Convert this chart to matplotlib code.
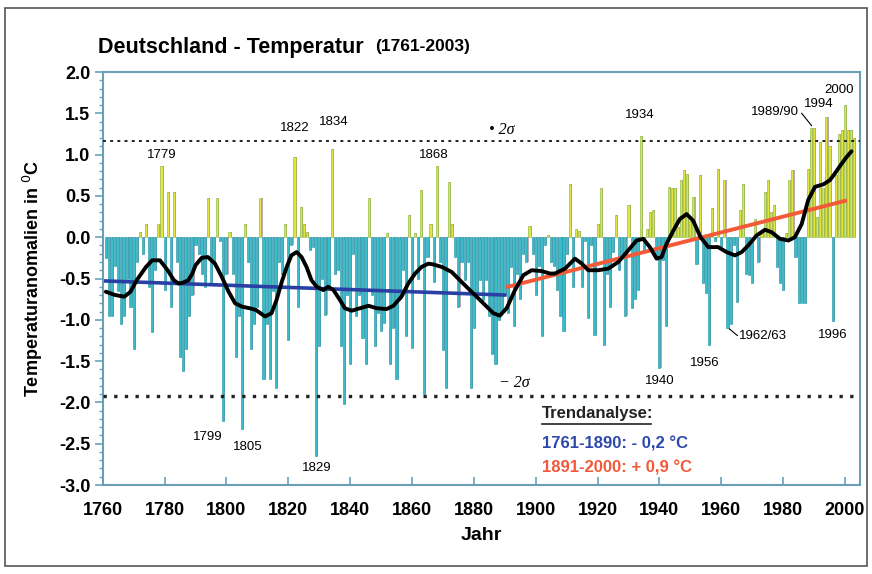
import numpy as np
import matplotlib
matplotlib.use("Agg")
import matplotlib.pyplot as plt
from matplotlib.patches import Rectangle

plt.rcParams['font.family'] = ['Liberation Sans', 'DejaVu Sans']

# Jahresmittel-Anomalien, 1761-2003
years = np.arange(1761, 2004)
anomalies = [
    -0.25, -0.95, -0.95, -0.35, -0.65, -1.05, -0.95, -0.50, -0.85, -1.35,  # 1761-1770
    -0.30, 0.06, -0.20, 0.16, -0.60, -1.15, -0.40, 0.16, 0.86, -0.64,      # 1771-1780
    0.55, -0.84, 0.55, -0.30, -1.45, -1.62, -1.35, -0.95, -0.70, -0.10,    # 1781-1790
    -0.20, -0.45, -0.60, 0.47, -0.55, -0.30, 0.47, -0.05, -2.22, -0.45,    # 1791-1800
    0.06, -0.45, -1.45, -0.95, -2.32, 0.16, -0.30, -1.35, -1.05, -0.84,    # 1801-1810
    0.47, -1.72, -1.05, -1.72, -0.65, -1.82, -0.30, -0.45, 0.16, -1.24,    # 1811-1820
    -0.10, 0.97, -0.84, 0.37, 0.16, 0.06, -0.15, -0.12, -2.65, -1.32,      # 1821-1830
    -0.50, -0.94, -0.64, 1.07, -0.45, -0.40, -1.32, -2.02, -0.70, -1.54,   # 1831-1840
    -0.20, -0.95, -0.70, -1.22, -1.54, 0.47, -0.70, -1.32, -0.92, -1.14,   # 1841-1850
    -1.04, 0.05, -1.54, -1.10, -1.72, -0.75, -0.40, -1.20, 0.27, -1.34,    # 1851-1860
    0.05, -0.50, 0.57, -1.90, -0.24, 0.16, -0.54, 0.86, -0.30, -1.36,      # 1861-1870
    -1.82, 0.67, 0.16, -0.24, -0.84, -0.30, -0.52, -0.30, -1.82, -1.10,    # 1871-1880
    -0.68, -0.52, -0.76, -0.52, -0.96, -1.42, -1.54, -1.00, -0.92, -0.70,  # 1881-1890
    -0.92, -0.36, -1.08, -0.44, -0.75, -0.20, -0.30, 0.14, -0.20, -0.70,   # 1891-1900
    -0.35, -1.20, -0.10, 0.03, -0.30, -0.35, -0.64, -0.96, -1.14, -0.20,   # 1901-1910
    0.65, -0.60, 0.10, 0.08, -0.60, -0.05, -0.98, -0.10, -1.18, 0.16,      # 1911-1920
    0.59, -1.30, -0.45, -0.84, -0.18, 0.27, -0.40, -0.20, -0.96, 0.39,     # 1921-1930
    -0.86, -0.75, -0.64, 1.22, -0.15, 0.10, 0.31, 0.33, -0.24, -1.58,      # 1931-1940
    -0.28, -1.08, 0.61, 0.59, 0.59, 0.12, 0.69, 0.81, 0.77, 0.20,          # 1941-1950
    0.49, -0.32, 0.75, -0.56, -0.68, -1.30, 0.35, -0.05, 0.83, -0.12,      # 1951-1960
    0.69, -1.10, -1.05, -0.10, -0.78, 0.33, 0.65, -0.44, -0.46, -0.56,     # 1961-1970
    0.22, -0.30, 0.05, 0.55, 0.69, 0.30, 0.39, -0.36, -0.56, -0.64,        # 1971-1980
    0.05, 0.69, 0.81, -0.24, -0.80, -0.80, -0.80, 0.83, 1.32, 1.32,        # 1981-1990
    0.25, 1.15, 0.60, 1.46, 1.10, -1.02, 0.75, 1.25, 1.30, 1.60,           # 1991-2000
    1.30, 1.30, 1.20,                                                      # 2001-2003
]

# geglaettete Kurve
smooth_years = [1761, 1764, 1767, 1769, 1771, 1774, 1776, 1778.5, 1781, 1783,
                1784.5, 1786, 1787.7, 1789, 1790, 1792, 1794, 1796.3, 1798.5, 1800.7,
                1802.8, 1805, 1807.5, 1809.5, 1812.5, 1814.6, 1816.2, 1817.9, 1819.5, 1821,
                1822.7, 1824.3, 1825.9, 1827.5, 1829.2, 1831.3, 1832.9, 1834.6, 1836.7, 1838.3,
                1840.5, 1843.2, 1845.9, 1848.6, 1851.8, 1854, 1856.6, 1858.8, 1861, 1863.1,
                1865.3, 1866.9, 1869.6, 1872.8, 1876, 1878.7, 1880.9, 1883.6, 1886.3, 1888.4,
                1890.6, 1893.3, 1896, 1898.7, 1901.9, 1904.6, 1906.2, 1909.5, 1912.7, 1914.9,
                1917, 1920.2, 1923.5, 1926.7, 1929.9, 1932.6, 1934.8, 1936.9, 1939.1, 1940.7,
                1942.3, 1944.5, 1946.6, 1948.8, 1950.9, 1953.3, 1955.8, 1959, 1961.7, 1964.4,
                1966.6, 1968.7, 1971.4, 1974.1, 1976.3, 1979, 1981.7, 1983.8, 1986, 1988.1,
                1990.3, 1993, 1995.1, 1996.7, 1998.9, 2000.5, 2002.1]
smooth_vals = [-0.66, -0.70, -0.72, -0.66, -0.52, -0.36, -0.28, -0.28, -0.40, -0.52,
               -0.56, -0.55, -0.52, -0.44, -0.34, -0.25, -0.24, -0.32, -0.48, -0.66,
               -0.80, -0.84, -0.86, -0.88, -0.96, -0.92, -0.76, -0.54, -0.36, -0.22,
               -0.18, -0.24, -0.36, -0.52, -0.60, -0.64, -0.60, -0.64, -0.76, -0.86,
               -0.89, -0.86, -0.83, -0.86, -0.87, -0.83, -0.72, -0.56, -0.44, -0.36,
               -0.32, -0.33, -0.36, -0.42, -0.54, -0.64, -0.72, -0.82, -0.92, -0.95,
               -0.86, -0.64, -0.46, -0.40, -0.41, -0.44, -0.44, -0.38, -0.26, -0.32,
               -0.40, -0.40, -0.38, -0.30, -0.16, -0.04, -0.02, -0.12, -0.26, -0.24,
               -0.08, 0.08, 0.22, 0.28, 0.20, 0.00, -0.12, -0.12, -0.18, -0.22,
               -0.18, -0.10, 0.02, 0.09, 0.06, -0.02, -0.04, 0.00, 0.16, 0.45,
               0.61, 0.64, 0.69, 0.77, 0.89, 0.97, 1.04]

# Trends
trend1_years = [1761, 1890]
trend1_vals = [-0.53, -0.70]
trend2_years = [1891, 2000]
trend2_vals = [-0.60, 0.44]

sigma_hi = 1.17
sigma_lo = -1.92

year_labels = [("1779", 1779.1, 1.00), ("1822", 1822.2, 1.32), ("1834", 1834.6, 1.39),
               ("1868", 1866.9, 1.00), ("1934", 1933.5, 1.48), ("1994", 1991.6, 1.61),
               ("2000", 1998.0, 1.78), ("1799", 1794.1, -2.42), ("1805", 1807.0, -2.54),
               ("1829", 1829.2, -2.79), ("1940", 1940.2, -1.74), ("1956", 1954.8, -1.52),
               ("1996", 1995.9, -1.18)]

fig = plt.figure(figsize=(8.72, 5.74), dpi=100)
ax = fig.add_axes([102.7 / 872, 89 / 574, 757.3 / 872, 413 / 574])

a = np.array(anomalies)
pos = a >= 0
# Schatten (3D-Effekt)
ax.bar(years + 0.38, a, width=0.62, color='#b9abb1', linewidth=0, zorder=1)
ax.bar(years[~pos], a[~pos], width=0.68, color='#38bccb', edgecolor='#1f95a6',
       linewidth=0.4, zorder=2)
ax.bar(years[pos], a[pos], width=0.68, color='#e4e43c', edgecolor='#7fb33a',
       linewidth=0.4, zorder=2)

ax.axhline(sigma_hi, color='#222222', lw=1.4, ls=(0, (1.5, 2.2)), zorder=3)
ax.axhline(sigma_lo, color='#222222', lw=2.4, ls=(0, (1, 2.2)), zorder=3)

ax.plot(trend1_years, trend1_vals, color='#2a3fa4', lw=2.6, zorder=4)
ax.plot(trend2_years, trend2_vals, color='#f25a38', lw=2.8, zorder=4)
ax.plot(smooth_years, smooth_vals, color='black', lw=2.8, zorder=5,
        solid_capstyle='round', solid_joinstyle='round')

for txt, x, y in year_labels:
    ax.text(x, y, txt, fontsize=9.5, ha='center', va='center', zorder=6)

# Beschriftungen mit Hinweisstrich
ax.text(1977.4, 1.52, "1989/90", fontsize=9.5, ha='center', va='center', zorder=6)
ax.plot([1986.0, 1989.2], [1.50, 1.35], color='black', lw=0.8, zorder=6)
ax.text(1965.6, -1.20, "1962/63", fontsize=9.5, ha='left', va='center', zorder=6)
ax.plot([1962.6, 1965.2], [-1.11, -1.19], color='black', lw=0.8, zorder=6)

ax.text(1889.1, 1.30, "• 2σ", fontsize=11.5, ha='center', va='center', style='italic',
        family=['Liberation Serif', 'DejaVu Serif'], zorder=6)
ax.text(1893.0, -1.76, "− 2σ", fontsize=11.5, ha='center', va='center', style='italic',
        family=['Liberation Serif', 'DejaVu Serif'], zorder=6)

ax.text(1901.9, -2.14, "Trendanalyse:", fontsize=12, fontweight='bold', ha='left',
        va='center', color='#222222', zorder=6)
ax.plot([1901.9, 1937.2], [-2.265, -2.265], color='#222222', lw=1.2)
ax.text(1901.9, -2.50, "1761-1890: - 0,2 °C", fontsize=12, fontweight='bold',
        ha='left', va='center', color='#2c48ab', zorder=6)
ax.text(1901.9, -2.79, "1891-2000: + 0,9 °C", fontsize=12, fontweight='bold',
        ha='left', va='center', color='#f2583a', zorder=6)

ax.set_xlim(1760, 2004.85)
ax.set_ylim(-3.0, 2.0)
ax.set_xticks(np.arange(1760, 2001, 20))
ax.set_yticks(np.arange(-3.0, 2.01, 0.5))
ax.set_yticks(np.arange(-3.0, 2.01, 0.1), minor=True)
ax.set_yticklabels([f"{v:.1f}" for v in np.arange(-3.0, 2.01, 0.5)])
spine_col = '#6a9fb5'
for s in ax.spines.values():
    s.set_color(spine_col)
    s.set_linewidth(1.5)
ax.tick_params(axis='x', direction='in', length=6, width=1.2, color=spine_col,
               labelsize=13, pad=12)
ax.tick_params(axis='y', which='major', direction='out', length=6, width=1.2,
               color=spine_col, labelsize=13, pad=3)
ax.tick_params(axis='y', which='minor', direction='out', length=3, width=1,
               color=spine_col)
for lab in ax.get_xticklabels() + ax.get_yticklabels():
    lab.set_fontweight('bold')

ax.set_xlabel("Jahr", fontsize=14, fontweight='bold', labelpad=6)
ax.set_ylabel("Temperaturanomalien in $^0$C", fontsize=13, fontweight='bold', labelpad=10)

fig.text(98 / 872, 1 - 47 / 574, "Deutschland - Temperatur", fontsize=15.5,
         fontweight='bold', va='center', ha='left')
fig.text(375 / 872, 1 - 47 / 574, "(1761-2003)", fontsize=12.5,
         fontweight='bold', va='center', ha='left')

fig.add_artist(Rectangle((5 / 872, 1 - 566 / 574), 862 / 872, 558 / 574,
                         transform=fig.transFigure, fill=False,
                         edgecolor='#555555', lw=1.2))

fig.savefig("out.png", dpi=100)
